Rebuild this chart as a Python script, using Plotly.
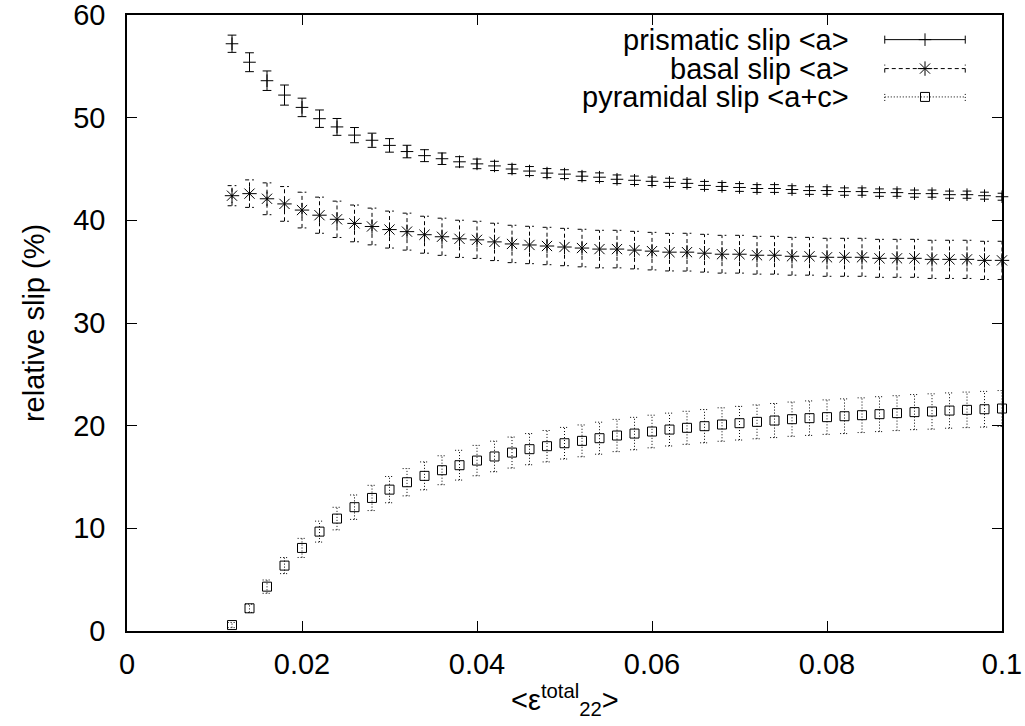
import plotly.graph_objects as go

# total strain <eps_22>
strain = [0.012, 0.014, 0.016, 0.018, 0.020, 0.022, 0.024, 0.026, 0.028, 0.030,
          0.032, 0.034, 0.036, 0.038, 0.040, 0.042, 0.044, 0.046, 0.048, 0.050,
          0.052, 0.054, 0.056, 0.058, 0.060, 0.062, 0.064, 0.066, 0.068, 0.070,
          0.072, 0.074, 0.076, 0.078, 0.080, 0.082, 0.084, 0.086, 0.088, 0.090,
          0.092, 0.094, 0.096, 0.098, 0.100]

# relative slip activity (%) and its scatter
prismatic = [57.2, 55.4, 53.6, 52.2, 51.0, 49.9, 49.1, 48.3, 47.8, 47.3,
             46.7, 46.3, 46.0, 45.7, 45.5, 45.3, 45.0, 44.8, 44.6, 44.5,
             44.3, 44.2, 44.0, 43.9, 43.8, 43.7, 43.6, 43.4, 43.3, 43.2,
             43.1, 43.1, 43.0, 42.9, 42.9, 42.8, 42.8, 42.7, 42.7, 42.6,
             42.6, 42.5, 42.5, 42.4, 42.3]
prismatic_err = [0.84, 0.92, 0.95, 0.98, 0.90, 0.85, 0.82, 0.74, 0.69, 0.66,
                 0.61, 0.58, 0.56, 0.50, 0.47, 0.45, 0.45, 0.44, 0.44, 0.43,
                 0.43, 0.42, 0.42, 0.41, 0.41, 0.40, 0.40, 0.39, 0.39, 0.38,
                 0.38, 0.38, 0.37, 0.37, 0.37, 0.36, 0.36, 0.36, 0.36, 0.35,
                 0.35, 0.35, 0.35, 0.34, 0.34]

basal = [42.4, 42.6, 42.1, 41.6, 41.0, 40.5, 40.1, 39.7, 39.4, 39.1,
         38.9, 38.6, 38.4, 38.2, 38.1, 37.9, 37.7, 37.6, 37.5, 37.4,
         37.3, 37.2, 37.2, 37.1, 37.0, 36.9, 36.9, 36.8, 36.7, 36.7,
         36.6, 36.6, 36.5, 36.5, 36.4, 36.4, 36.4, 36.3, 36.3, 36.3,
         36.2, 36.2, 36.2, 36.1, 36.1]
basal_err = [0.98, 1.34, 1.55, 1.69, 1.74, 1.76, 1.77, 1.79, 1.79, 1.80,
             1.80, 1.80, 1.81, 1.81, 1.81, 1.82, 1.82, 1.82, 1.82, 1.82,
             1.83, 1.83, 1.83, 1.83, 1.83, 1.83, 1.84, 1.84, 1.84, 1.84,
             1.84, 1.84, 1.84, 1.84, 1.85, 1.85, 1.85, 1.85, 1.85, 1.85,
             1.86, 1.86, 1.86, 1.86, 1.86]

pyramidal = [0.58, 2.21, 4.32, 6.37, 8.09, 9.68, 10.95, 12.06, 12.96, 13.77,
             14.49, 15.11, 15.66, 16.15, 16.60, 17.00, 17.38, 17.71, 18.00, 18.29,
             18.52, 18.78, 19.04, 19.23, 19.43, 19.62, 19.79, 19.95, 20.11, 20.24,
             20.37, 20.50, 20.63, 20.73, 20.83, 20.92, 21.02, 21.12, 21.22, 21.32,
             21.38, 21.47, 21.54, 21.60, 21.67]
pyramidal_err = [0.25, 0.40, 0.65, 0.78, 0.93, 1.02, 1.10, 1.19, 1.23, 1.28,
                 1.33, 1.36, 1.41, 1.45, 1.48, 1.49, 1.51, 1.52, 1.53, 1.54,
                 1.55, 1.56, 1.57, 1.58, 1.59, 1.60, 1.61, 1.62, 1.63, 1.64,
                 1.65, 1.66, 1.67, 1.68, 1.68, 1.69, 1.69, 1.70, 1.70, 1.71,
                 1.72, 1.72, 1.73, 1.74, 1.75]

series_names = ["prismatic slip &lt;a&gt;", "basal slip &lt;a&gt;", "pyramidal slip &lt;a+c&gt;"]

x_ticks = [0, 0.02, 0.04, 0.06, 0.08, 0.1]
x_ticktext = ["0", "0.02", "0.04", "0.06", "0.08", "0.1"]
y_ticks = [0, 10, 20, 30, 40, 50, 60]
x_title = "&lt;ε<sup>total</sup><sub>22</sub>&gt;"
y_title = "relative slip (%)"

FONT = "Liberation Sans, Arial, Helvetica, sans-serif"
FS = 29
CAP = 0.0005  # half width of error-bar caps, in strain units


def error_paths(xs, ys, es, cap):
    """Vertical bars plus top/bottom caps, as one path broken by None."""
    px, py = [], []
    for x, y, e in zip(xs, ys, es):
        px += [x, x, None, x - cap, x + cap, None, x - cap, x + cap, None]
        py += [y - e, y + e, None, y - e, y - e, None, y + e, y + e, None]
    return px, py


styles = [
    dict(vals=prismatic, errs=prismatic_err, dash="solid", symbol="cross-thin-open", size=9),
    dict(vals=basal, errs=basal_err, dash="4px,3px", symbol="asterisk-open", size=12),
    dict(vals=pyramidal, errs=pyramidal_err, dash="1px,2px", symbol="square-open", size=9),
]

fig = go.Figure()

for name, st in zip(series_names, styles):
    ex, ey = error_paths(strain, st["vals"], st["errs"], CAP)
    fig.add_trace(go.Scatter(
        x=ex, y=ey, mode="lines", hoverinfo="skip",
        line=dict(color="black", width=1, dash=st["dash"]),
        showlegend=False,
    ))
    fig.add_trace(go.Scatter(
        x=strain, y=st["vals"], mode="markers", name=name,
        marker=dict(symbol=st["symbol"], size=st["size"], color="black",
                    line=dict(color="black", width=1)),
        cliponaxis=False, showlegend=False,
    ))

# key in the upper right: right-aligned labels, sample line with end ticks and symbol
key_text_x = 0.827
key_line_x0, key_line_x1 = 0.866, 0.958
key_rows = [0.960, 0.913, 0.867]
tick_h = 0.0065
for name, st, ky in zip(series_names, styles, key_rows):
    fig.add_annotation(x=key_text_x, y=ky, xref="paper", yref="paper",
                       text=name, showarrow=False, xanchor="right", yanchor="middle",
                       font=dict(family=FONT, size=FS, color="black"))
    fig.add_shape(type="line", xref="paper", yref="paper",
                  x0=key_line_x0, x1=key_line_x1, y0=ky, y1=ky,
                  line=dict(color="black", width=1, dash=st["dash"]))
    for kx in (key_line_x0, key_line_x1):
        fig.add_shape(type="line", xref="paper", yref="paper",
                      x0=kx, x1=kx, y0=ky - tick_h, y1=ky + tick_h,
                      line=dict(color="black", width=1, dash=st["dash"]))
    fig.add_trace(go.Scatter(
        x=[(key_line_x0 + key_line_x1) / 2], y=[ky], xaxis="x2", yaxis="y2",
        mode="markers", hoverinfo="skip", showlegend=False, cliponaxis=False,
        marker=dict(symbol=st["symbol"], size=st["size"], color="black",
                    line=dict(color="black", width=1)),
    ))

# x-axis label placed below the tick labels
fig.add_annotation(x=0.5, y=-0.112, xref="paper", yref="paper",
                   text=x_title, showarrow=False, xanchor="center", yanchor="middle",
                   font=dict(family=FONT, size=FS, color="black"))

axis_common = dict(
    showline=True, linecolor="black", linewidth=1.5, mirror="ticks",
    ticks="inside", ticklen=10, tickwidth=1, tickcolor="black",
    showgrid=False, zeroline=False, automargin=False,
    ticklabeloverflow="allow",
    tickfont=dict(family=FONT, size=FS, color="black"),
)

fig.update_layout(
    width=1025, height=726,
    margin=dict(l=127, r=23, t=15, b=95),
    paper_bgcolor="white", plot_bgcolor="white",
    font=dict(family=FONT, size=FS, color="black"),
    showlegend=False,
    xaxis=dict(range=[0, 0.1], tickvals=x_ticks, ticktext=x_ticktext,
               ticklabelstandoff=6, **axis_common),
    yaxis=dict(range=[0, 60], tickvals=y_ticks,
               ticklabelstandoff=14,
               title=dict(text=y_title,
                          font=dict(family=FONT, size=FS, color="black"), standoff=20),
               **axis_common),
    xaxis2=dict(overlaying="x", range=[0, 1], visible=False, fixedrange=True),
    yaxis2=dict(overlaying="y", range=[0, 1], visible=False, fixedrange=True),
)

fig.write_html("out.html")
